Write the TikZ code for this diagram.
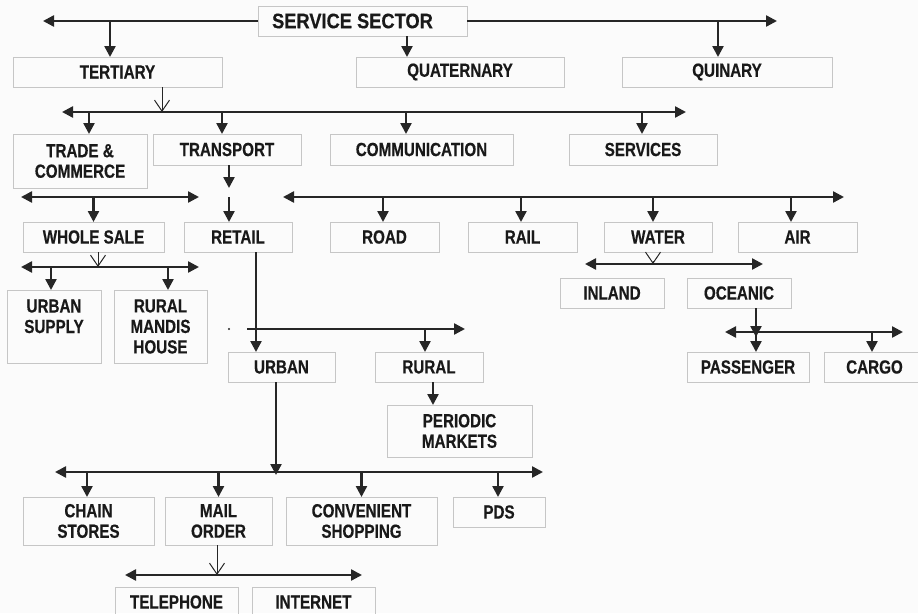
\documentclass[tikz,border=0pt]{standalone}
\usepackage{fontspec}
\newfontfamily\labfont{Liberation Sans}[FakeStretch=0.80,FakeBold=0.4]
\newfontfamily\ssfont{Liberation Sans}[FakeStretch=0.87,FakeBold=0.4]
\usetikzlibrary{arrows.meta}
\tikzset{
  box/.style={draw=gray!45, line width=1pt, inner sep=0pt, outer sep=0pt,
    anchor=north west, align=center, text=black!90,
    font=\labfont\bfseries\fontsize{19}{20.5}\selectfont},
  bigbox/.style={box, font=\ssfont\bfseries\fontsize{21}{22}\selectfont},
  conn/.style={line width=2.4pt, draw=black!85},
  arr/.style={conn, -{Triangle[length=11pt,width=11pt]}},
  dbl/.style={conn, {Triangle[length=11pt,width=11pt]}-{Triangle[length=11pt,width=11pt]}},
  openarr/.style={line width=1pt, draw=black!85, -{Straight Barb[length=11pt,width=15pt]}},
}
\newcommand\bx[7][box]{\node[#1,minimum width={#5pt-#3pt},minimum height={#6pt-#4pt}] (#2) at (#3,#4) {#7};}
\begin{document}
\begin{tikzpicture}[x=1pt,y=-1pt]
\fill[gray!3] (0,0) rectangle (918,613);
\useasboundingbox (0,0) rectangle (918,613);
\clip (0,0) rectangle (918,613);
% nodes
\bx[bigbox]{ss}{258}{6}{467}{36}{SERVICE SECTOR\hspace{20pt}}
\bx{tert}{13}{57}{222}{87}{TERTIARY}
\bx{quat}{356}{57}{564}{87}{QUATERNARY}
\bx{quin}{622}{57}{832}{87}{QUINARY}
\bx{trade}{13}{134}{147}{188}{TRADE \&\\COMMERCE}
\bx{trans}{153}{134}{301}{165}{TRANSPORT}
\bx{comm}{330}{134}{513}{165}{COMMUNICATION}
\bx{serv}{569}{134}{717}{165}{SERVICES}
\bx{whole}{23}{222}{164}{252}{WHOLE SALE}
\bx{retail}{184}{222}{292}{252}{RETAIL}
\bx{road}{330}{222}{439}{252}{ROAD}
\bx{rail}{468}{222}{577}{252}{RAIL}
\bx{water}{604}{222}{712}{252}{WATER}
\bx{air}{738}{222}{857}{252}{AIR}
\bx{usup}{7}{290}{101}{363}{URBAN\\SUPPLY\\~}
\bx{rmh}{114}{290}{207}{363}{RURAL\\MANDIS\\HOUSE}
\bx{inland}{560}{278}{664}{308}{INLAND}
\bx{oceanic}{687}{278}{791}{308}{OCEANIC}
\bx{urban}{228}{352}{335}{382}{URBAN}
\bx{rural}{375}{352}{483}{382}{RURAL}
\bx{periodic}{387}{405}{532}{457}{PERIODIC\\MARKETS}
\bx{passenger}{687}{352}{809}{382}{PASSENGER}
\bx{cargo}{824}{352}{925}{382}{CARGO}
\bx{chain}{23}{497}{154}{545}{CHAIN\\STORES}
\bx{mail}{165}{497}{272}{545}{MAIL\\ORDER}
\bx{conv}{286}{497}{437}{545}{CONVENIENT\\SHOPPING}
\bx{pds}{453}{497}{545}{527}{PDS}
\bx{tel}{115}{587}{238}{617}{TELEPHONE}
\bx{inet}{252}{587}{375}{617}{INTERNET}
% bus coordinates
\coordinate (topL) at (43,21);
\coordinate (topR) at (777,21);
\coordinate (b1L) at (62,112);   \coordinate (b1R) at (686,112);
\coordinate (b2L) at (21,197);   \coordinate (b2R) at (199,197);
\coordinate (b3L) at (283,197);  \coordinate (b3R) at (844,197);
\coordinate (b4L) at (21,267);   \coordinate (b4R) at (199,267);
\coordinate (b5L) at (247,329);  \coordinate (b5R) at (465,329);
\coordinate (b6L) at (55,472);   \coordinate (b6R) at (543,472);
\coordinate (b7L) at (125,575);  \coordinate (b7R) at (362,575);
\coordinate (b8L) at (585,264);  \coordinate (b8R) at (763,264);
\coordinate (b9L) at (725,332);  \coordinate (b9R) at (903,332);
\coordinate (tr1) at (229,188);
\coordinate (tr2) at (229,197);
\coordinate (dot) at (229,329);
% top level
\draw[arr] (ss.west) -- (topL);
\draw[arr] (ss.east) -- (topR);
\draw[arr] ([xshift=-7.5pt]tert.north |- topL) -- ([xshift=-7.5pt]tert.north);
\draw[arr] ([xshift=-53pt]quat.north |- ss.south) -- ([xshift=-53pt]quat.north);
\draw[arr] ([xshift=-9pt]quin.north |- topR) -- ([xshift=-9pt]quin.north);
% tertiary
\draw[openarr] ([xshift=44.5pt]tert.south) -- ([xshift=44.5pt]tert.south |- b1L);
\draw[dbl] (b1L) -- (b1R);
\draw[arr] ([xshift=9pt]trade.north |- b1L) -- ([xshift=9pt]trade.north);
\draw[arr] ([xshift=-5pt]trans.north |- b1L) -- ([xshift=-5pt]trans.north);
\draw[arr] ([xshift=-15.5pt]comm.north |- b1L) -- ([xshift=-15.5pt]comm.north);
\draw[arr] ([xshift=-1pt]serv.north |- b1L) -- ([xshift=-1pt]serv.north);
% trade
\draw[dbl] (b2L) -- (b2R);
\draw[arr] (whole.north |- b2L) -- (whole.north);
\draw[openarr] ([xshift=4.5pt]whole.south) -- ([xshift=4.5pt]whole.south |- b4L);
\draw[dbl] (b4L) -- (b4R);
\draw[arr] ([xshift=-3pt]usup.north |- b4L) -- ([xshift=-3pt]usup.north);
\draw[arr] ([xshift=7.5pt]rmh.north |- b4L) -- ([xshift=7.5pt]rmh.north);
% transport
\draw[arr] (trans.south -| tr1) -- (tr1);
\draw[arr] (tr2) -- (tr2 |- retail.north);
\draw[dbl] (b3L) -- (b3R);
\draw[arr] ([xshift=-1.5pt]road.north |- b3L) -- ([xshift=-1.5pt]road.north);
\draw[arr] ([xshift=-1.5pt]rail.north |- b3L) -- ([xshift=-1.5pt]rail.north);
\draw[arr] ([xshift=-5pt]water.north |- b3L) -- ([xshift=-5pt]water.north);
\draw[arr] ([xshift=-6.5pt]air.north |- b3L) -- ([xshift=-6.5pt]air.north);
% water
\draw[openarr] ([xshift=-5pt,yshift=-9pt]water.south) -- ([xshift=-5pt]water.south |- b8L);
\draw[dbl] (b8L) -- (b8R);
\draw[arr] ([xshift=17pt]oceanic.south) -- ([xshift=17pt,yshift=-5pt]oceanic.south |- b9L);
\draw[dbl] (b9L) -- (b9R);
\draw[arr] ([xshift=8pt]passenger.north |- b9L) -- ([xshift=8pt]passenger.north);
\draw[arr] ([xshift=-2.5pt]cargo.north |- b9L) -- ([xshift=-2.5pt]cargo.north);
% retail
\draw[arr] ([xshift=18pt]retail.south) -- ([xshift=18pt]retail.south |- urban.north);
\fill[black!85] (dot) circle (1.2pt);
\draw[conn, -{Triangle[length=11pt,width=11pt]}] (b5L) -- (b5R);
\draw[arr] ([xshift=-4pt]rural.north |- b5L) -- ([xshift=-4pt]rural.north);
\draw[arr] ([xshift=4pt]rural.south) -- ([xshift=4pt]rural.south |- periodic.north);
% urban
\draw[arr] ([xshift=-5.5pt]urban.south) -- ([xshift=-5.5pt,yshift=-3pt]urban.south |- b6L);
\draw[dbl] (b6L) -- (b6R);
\draw[arr] ([xshift=-1.5pt]chain.north |- b6L) -- ([xshift=-1.5pt]chain.north);
\draw[arr] (mail.north |- b6L) -- (mail.north);
\draw[arr] (conv.north |- b6L) -- (conv.north);
\draw[arr] ([xshift=-1pt]pds.north |- b6L) -- ([xshift=-1pt]pds.north);
% mail order
\draw[openarr] ([xshift=-1.5pt]mail.south) -- ([xshift=-1.5pt]mail.south |- b7L);
\draw[dbl] (b7L) -- (b7R);
\end{tikzpicture}
\end{document}
